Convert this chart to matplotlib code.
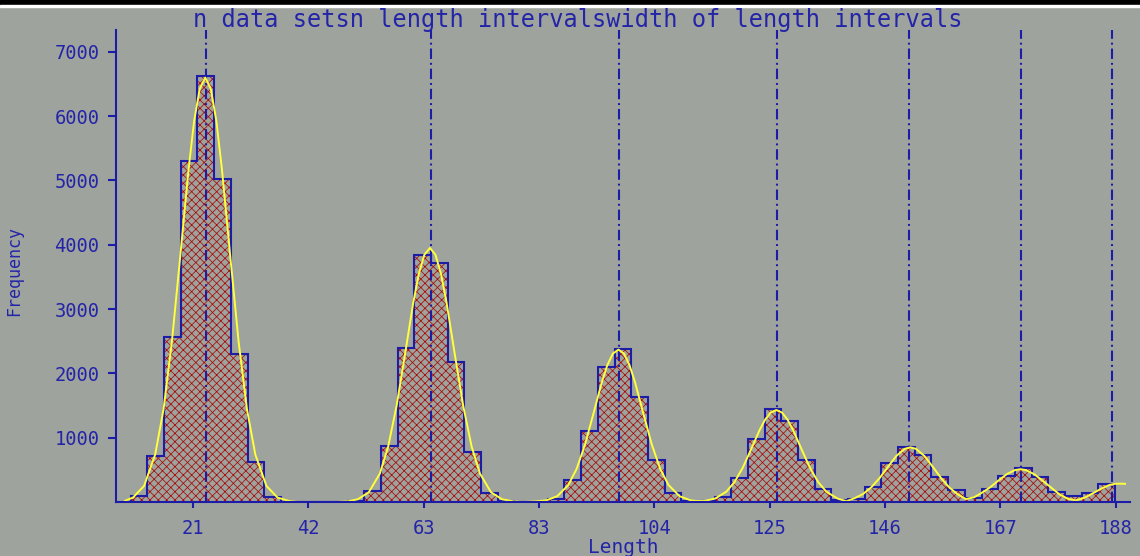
import numpy as np
import matplotlib
matplotlib.use("Agg")
import matplotlib.pyplot as plt

# ---------------- data ----------------
title_text = "n data setsn length intervalswidth of length intervals"
x_label = "Length"
y_label = "Frequency"

bin_start = 10
bin_width = 3
bin_heights = [
    100, 720, 2560, 5300, 6620, 5020, 2300, 620, 80,          # 10..37
    0, 0, 0, 0,                                               # 37..49
    10, 176, 870, 2390, 3840, 3710, 2180, 770, 135, 20,       # 49..79
    0, 5,                                                     # 79..85
    40, 340, 1100, 2100, 2380, 1640, 650, 135, 10,            # 85..112
    15, 73, 378, 980, 1440, 1265, 653, 197, 35,               # 112..139
    40, 240, 600, 860, 730, 384, 187, 57,                     # 139..163
    197, 404, 524, 384, 160, 100, 145, 280,                   # 163..187
]

curve_x = [
    9.0, 10.4, 12.4, 14.4, 15.9, 17.4, 18.9, 20.4, 21.4, 22.4, 23.4, 24.4,
    25.4, 26.4, 27.9, 29.4, 30.9, 32.4, 34.4, 36.4, 38.5, 40.0, 47.0,
    49.0, 50.8, 52.8, 54.8, 56.3, 57.8, 59.3, 60.8, 61.8, 62.8, 63.8, 64.8,
    65.8, 66.8, 68.3, 69.8, 71.3, 72.8, 74.8, 76.8, 79.0, 80.5,
    82.5, 84.7, 86.7, 88.7, 90.2, 91.7, 93.2, 94.7, 95.7, 96.7, 97.7, 98.7,
    99.7, 100.7, 102.2, 103.7, 105.2, 106.7, 108.7, 110.7, 111.9,
    113.1, 115.1, 117.1, 118.6, 120.1, 121.6, 123.1, 124.1, 125.1, 126.1,
    127.1, 128.1, 129.1, 130.6, 132.1, 133.6, 135.1, 137.1, 138.7,
    140.2, 141.7, 143.2, 144.7, 146.2, 147.7, 149.2, 150.2, 151.2, 152.7,
    154.2, 155.7, 157.2, 158.7, 160.2, 161.7,
    163.0, 164.5, 166.0, 167.5, 169.0, 170.0, 171.0, 172.5, 174.0, 175.5,
    177.0, 178.5, 180.0, 181.5, 183.0, 184.5, 186.0, 187.0, 188.0, 188.8,
]
curve_y = [
    20, 69, 250, 739, 1442, 2493, 3817, 5174, 5924, 6424, 6600, 6424,
    5924, 5174, 3817, 2493, 1442, 739, 250, 69, 15, 0, 0,
    10, 41, 150, 442, 863, 1492, 2284, 3097, 3545, 3845, 3950, 3845,
    3545, 3097, 2284, 1492, 863, 442, 150, 41, 8, 0,
    8, 25, 90, 265, 518, 895, 1371, 1858, 2127, 2307, 2370, 2307,
    2127, 1858, 1371, 895, 518, 265, 90, 25, 16,
    15, 54, 160, 312, 540, 827, 1121, 1283, 1392, 1430,
    1392, 1283, 1121, 827, 540, 312, 160, 54, 12,
    60, 125, 230, 375, 551, 718, 827, 850, 827, 718,
    551, 375, 226, 120, 45, 75,
    140, 225, 331, 431, 496, 510, 496, 431, 331, 225,
    120, 50, 25, 65, 135, 205, 265, 283, 285, 283,
]

mode_positions = [23.5, 64.0, 97.8, 126.2, 150.0, 170.1, 186.5]

ytick_values = [1000, 2000, 3000, 4000, 5000, 6000, 7000]
xtick_labels = ["21", "42", "63", "83", "104", "125", "146", "167", "188"]
xtick_first, xtick_last = 21.2, 187.1

# ---------------- style ----------------
BG = "#9ea39d"
BLUE = "#1c1ca6"
TXT = "#2424a8"
RED = "#a80a0a"
YEL = "#ffff3c"
FONT = "DejaVu Sans Mono"

plt.rcParams["hatch.linewidth"] = 0.55
plt.rcParams["lines.scale_dashes"] = False
plt.rcParams["font.family"] = FONT

fig = plt.figure(figsize=(11.4, 5.56), dpi=100, facecolor=BG)
ax = fig.add_axes([116 / 1140, 1 - 502 / 556, (1130 - 116) / 1140, (502 - 30) / 556])
ax.set_facecolor(BG)

edges = bin_start + bin_width * np.arange(len(bin_heights) + 1)

# hatched fill
ax.stairs(bin_heights, edges, fill=True, baseline=0, facecolor="none",
          edgecolor=RED, hatch="xxxx", linewidth=0, zorder=1)
# mode lines
for m in mode_positions:
    ax.axvline(m, color=BLUE, linewidth=1.5, zorder=2,
               dashes=(7.5, 2.8, 1.4, 2.8))
# step outline
ax.stairs(bin_heights, edges, fill=False, baseline=0, color=BLUE,
          linewidth=1.5, zorder=2.2)
# fitted curve
ax.plot(curve_x, curve_y, color=YEL, linewidth=1.4, zorder=3)

ax.set_xlim(7.35, 189.7)
ax.set_ylim(0, 7340)

for s in ["top", "right"]:
    ax.spines[s].set_visible(False)
for s in ["left", "bottom"]:
    ax.spines[s].set_color(BLUE)
    ax.spines[s].set_linewidth(1.5)
    ax.spines[s].set_zorder(4)

ax.set_yticks(ytick_values)
ax.set_yticklabels([str(v) for v in ytick_values])
ax.set_xticks(np.linspace(xtick_first, xtick_last, len(xtick_labels)))
ax.set_xticklabels(xtick_labels)
ax.tick_params(axis="y", direction="out", length=6, width=1.5, color=BLUE,
               labelcolor=TXT, labelsize=13.5, pad=6)
ax.tick_params(axis="x", direction="out", length=4, width=1.5, color=BLUE,
               labelcolor=TXT, labelsize=13.5, pad=8)

ax.set_xlabel(x_label, color=TXT, fontsize=14, labelpad=0)
ax.set_ylabel(y_label, color=TXT, fontsize=12, labelpad=22)
ax.yaxis.set_label_coords(-0.092, 0.49)

fig.text(578 / 1140, 1 - 20 / 556, title_text, color=TXT, fontsize=17,
         ha="center", va="center", family=FONT)

# top border band
fig.patches.append(plt.Rectangle((0, 1 - 5 / 556), 1, 5 / 556,
                                 transform=fig.transFigure, color="black",
                                 zorder=0))
fig.patches.append(plt.Rectangle((0, 1 - 7 / 556), 1, 2 / 556,
                                 transform=fig.transFigure, color="white",
                                 zorder=0))

fig.savefig("out.png", dpi=100, facecolor=BG)
